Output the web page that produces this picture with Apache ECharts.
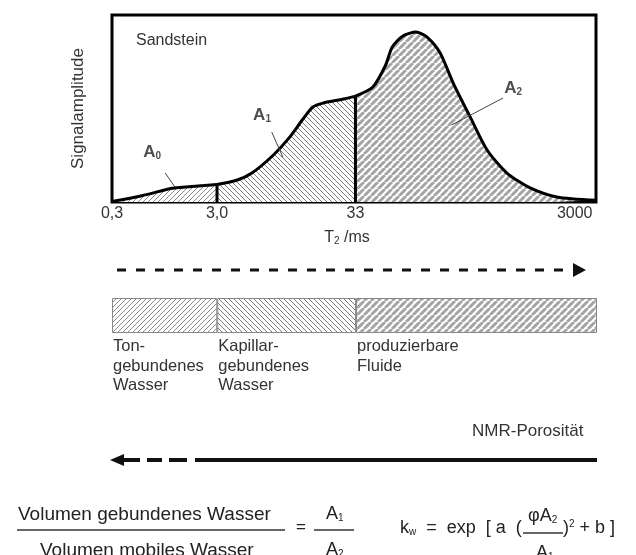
<!DOCTYPE html>
<html><head><meta charset="utf-8">
<script src="https://cdn.jsdelivr.net/npm/echarts@6/dist/echarts.min.js"></script>
<style>html,body{margin:0;padding:0;background:#fff}#c{width:636px;height:555px}</style>
</head><body><div id="c"></div>
<script>
// ---- data ----
const tickPos = [0, 21.7, 50.3, 95.6];
const tickLabels = ['0,3', '3,0', '33', '3000'];
const curveX = [0, 5.9, 11.9, 13.3, 21.7, 25.6, 28.9, 33.3, 36.5, 39.5, 41.5, 43.6, 47.4, 50.3, 53.9, 56.5, 57.9, 60.1, 62.8, 65.1, 67.8, 70.5, 74.0, 77.5, 81.6, 86.4, 91.9, 100];
const curveY = [0.3, 3.2, 7.1, 7.6, 9.4, 11.5, 15.5, 25.0, 34.0, 44.5, 50.8, 52.9, 54.8, 56.6, 61.5, 73.0, 82.9, 88.8, 90.9, 88.2, 79.7, 63.6, 45.5, 27.8, 15.5, 7.5, 2.7, 0.9];
const bounds = [21.7, 50.3];          // cut-offs at T2 = 3,0 ms and 33 ms
const barNames = ['Ton-\ngebundenes\nWasser', 'Kapillar-\ngebundenes\nWasser', 'produzierbare\nFluide'];
const barValues = [21.7, 28.6, 49.7];
const areaNames = ['0', '1', '2'];
const areaLabelPos = [[8.3, 26.7], [31, 46.5], [82.9, 61]];
const leaderLines = [[[11, 15.5], [13, 8]], [[33, 37.4], [35.3, 24]], [[80.8, 55.6], [70.2, 41.2]]];

// ---- hatch patterns ----
function hatch(size, dir, color, lw, bg) {
  const c = document.createElement('canvas');
  c.width = c.height = size;
  const g = c.getContext('2d');
  g.fillStyle = bg || '#fff';
  g.fillRect(0, 0, size, size);
  g.strokeStyle = color; g.lineWidth = lw; g.beginPath();
  for (let k = -1; k <= 1; k++) {
    if (dir > 0) { g.moveTo(k * size, size); g.lineTo(k * size + size, 0); }
    else { g.moveTo(k * size, 0); g.lineTo(k * size + size, size); }
  }
  g.stroke();
  return { image: c, repeat: 'repeat' };
}
const patterns = [
  hatch(5, 1, '#8a8a8a', 1),
  hatch(5, -1, '#7a7a7a', 1),
  hatch(7, 1, '#a4a4a4', 3)
];

// ---- build segments ----
const pts = curveX.map((x, i) => [x, curveY[i]]);
const edges = [0].concat(bounds, [100]);
const segs = [0, 1, 2].map(s => pts.filter(p => p[0] >= edges[s] && p[0] <= edges[s + 1]));
const yAt = b => curveY[curveX.indexOf(b)];

const FONT = 'Liberation Sans, Arial, sans-serif';
const TXT = '#333';
const sub = (size, pad) => ({ font: size + 'px ' + FONT, fill: '#222', verticalAlign: 'bottom', padding: [pad, 0, 0, 0] });
const big = size => ({ font: size + 'px ' + FONT, fill: '#222' });

const series = [];
segs.forEach((d, s) => series.push({
  type: 'line', data: d, xAxisIndex: 0, yAxisIndex: 0, smooth: 0.25, symbol: 'none',
  lineStyle: { color: '#000', width: 3 }, areaStyle: { color: patterns[s], opacity: 1 }, z: 3
}));
bounds.forEach(b => series.push({
  type: 'line', data: [[b, 0], [b, yAt(b)]], symbol: 'none',
  lineStyle: { color: '#000', width: 3 }, z: 4
}));
leaderLines.forEach(l => series.push({
  type: 'line', data: l, symbol: 'none', lineStyle: { color: '#444', width: 1 }, z: 5
}));
series.push({
  type: 'scatter', symbolSize: 0, z: 6,
  data: areaLabelPos.map((p, i) => ({ value: p, name: areaNames[i] })),
  label: {
    show: true, position: 'inside',
    formatter: p => '{a|A}{s|' + p.name + '}',
    rich: {
      a: { fontFamily: FONT, fontSize: 17, fontWeight: 'bold', color: '#222' },
      s: { fontFamily: FONT, fontSize: 10, fontWeight: 'bold', color: '#222', verticalAlign: 'bottom', padding: [8, 0, 0, 0] }
    }
  }
});
barValues.forEach((v, i) => series.push({
  type: 'bar', xAxisIndex: 1, yAxisIndex: 1, stack: 'p', data: [v], barWidth: 35,
  itemStyle: { color: patterns[i], borderColor: '#888', borderWidth: 1 },
  label: {
    show: true, position: [1, 39], align: 'left', verticalAlign: 'top',
    formatter: barNames[i], fontFamily: FONT, fontSize: 16.5, lineHeight: 19.5, color: TXT
  }
}));

const chart = echarts.init(document.getElementById('c'), null, { renderer: 'canvas' });
chart.setOption({
  backgroundColor: '#fff',
  animation: false,
  grid: [
    { left: 112, top: 15, width: 484, height: 187, show: true, borderWidth: 3, borderColor: '#000', outerBoundsMode: 'none', containLabel: false },
    { left: 112, top: 298, width: 485, height: 35, outerBoundsMode: 'none', containLabel: false }
  ],
  xAxis: [
    {
      type: 'value', gridIndex: 0, min: 0, max: 100,
      axisLine: { show: false }, axisTick: { show: false }, splitLine: { show: false },
      axisLabel: {
        customValues: tickPos, margin: 4, fontFamily: FONT, fontSize: 16, color: TXT,
        formatter: v => { const i = tickPos.indexOf(v); return i >= 0 ? tickLabels[i] : ''; }
      },
      name: '{a|T}{s|2}{a| /ms}', nameLocation: 'middle', nameGap: 28,
      nameTextStyle: { padding: [0, 14, 0, 0], rich: {
        a: { fontFamily: FONT, fontSize: 16, color: TXT },
        s: { fontFamily: FONT, fontSize: 10, color: TXT, verticalAlign: 'bottom', padding: [6, 0, 0, 0] }
      } }
    },
    { type: 'value', gridIndex: 1, min: 0, max: 100, show: false }
  ],
  yAxis: [
    {
      type: 'value', gridIndex: 0, min: 0, max: 100,
      axisLine: { show: false }, axisTick: { show: false }, splitLine: { show: false }, axisLabel: { show: false },
      name: 'Signalamplitude', nameLocation: 'middle', nameGap: 25,
      nameTextStyle: { fontFamily: FONT, fontSize: 17, color: TXT }
    },
    { type: 'category', gridIndex: 1, data: [''], show: false }
  ],
  series: series,
  graphic: [
    { type: 'text', left: 136, top: 33, style: { text: 'Sandstein', font: '16px ' + FONT, fill: TXT } },
    // flow arrow right (dashed)
    { type: 'line', shape: { x1: 117, y1: 270, x2: 576, y2: 270 }, style: { stroke: '#111', lineWidth: 3, lineDash: [9, 10] } },
    { type: 'polygon', shape: { points: [[573, 263], [586, 270], [573, 277]] }, style: { fill: '#111' } },
    // NMR porosity arrow (left)
    { type: 'text', left: 472, top: 423, style: { text: 'NMR-Porosität', font: '17px ' + FONT, fill: TXT } },
    { type: 'polygon', shape: { points: [[110, 460], [124, 454], [124, 466]] }, style: { fill: '#111' } },
    { type: 'line', shape: { x1: 123, y1: 460, x2: 140, y2: 460 }, style: { stroke: '#111', lineWidth: 4 } },
    { type: 'line', shape: { x1: 147, y1: 460, x2: 162, y2: 460 }, style: { stroke: '#111', lineWidth: 4 } },
    { type: 'line', shape: { x1: 169, y1: 460, x2: 187, y2: 460 }, style: { stroke: '#111', lineWidth: 4 } },
    { type: 'line', shape: { x1: 195, y1: 460, x2: 597, y2: 460 }, style: { stroke: '#111', lineWidth: 4 } },
    // formula 1
    { type: 'text', left: 18, top: 505, style: { text: 'Volumen gebundenes Wasser', font: '19px ' + FONT, fill: '#222' } },
    { type: 'line', shape: { x1: 17, y1: 530, x2: 285, y2: 530 }, style: { stroke: '#333', lineWidth: 1.3 } },
    { type: 'text', left: 40, top: 541, style: { text: 'Volumen mobiles Wasser', font: '19px ' + FONT, fill: '#222' } },
    { type: 'text', left: 296, top: 519, style: { text: '=', font: '17px ' + FONT, fill: '#222' } },
    { type: 'text', left: 326, top: 505, style: { text: '{a|A}{s|1}', rich: { a: big(18), s: sub(10, 8) } } },
    { type: 'line', shape: { x1: 314, y1: 530, x2: 354, y2: 530 }, style: { stroke: '#333', lineWidth: 1.3 } },
    { type: 'text', left: 326, top: 541, style: { text: '{a|A}{s|2}', rich: { a: big(18), s: sub(10, 8) } } },
    // formula 2
    { type: 'text', left: 400, top: 519, style: { text: '{a|k}{s|w}{a|  =  exp  [ a  (}', rich: { a: big(18), s: sub(10, 8) } } },
    { type: 'text', left: 528, top: 507, style: { text: '{a|φA}{s|2}', rich: { a: big(18), s: sub(10, 8) } } },
    { type: 'line', shape: { x1: 523, y1: 533, x2: 563, y2: 533 }, style: { stroke: '#333', lineWidth: 1.3 } },
    { type: 'text', left: 536, top: 544, style: { text: '{a|A}{s|1}', rich: { a: big(18), s: sub(10, 8) } } },
    { type: 'text', left: 563, top: 519, style: { text: '{a|)}{p|2}{a| + b ]}', rich: { a: big(18), p: { font: '10px ' + FONT, fill: '#222', verticalAlign: 'top', padding: [0, 0, 8, 0] } } } }
  ]
});
</script></body></html>
